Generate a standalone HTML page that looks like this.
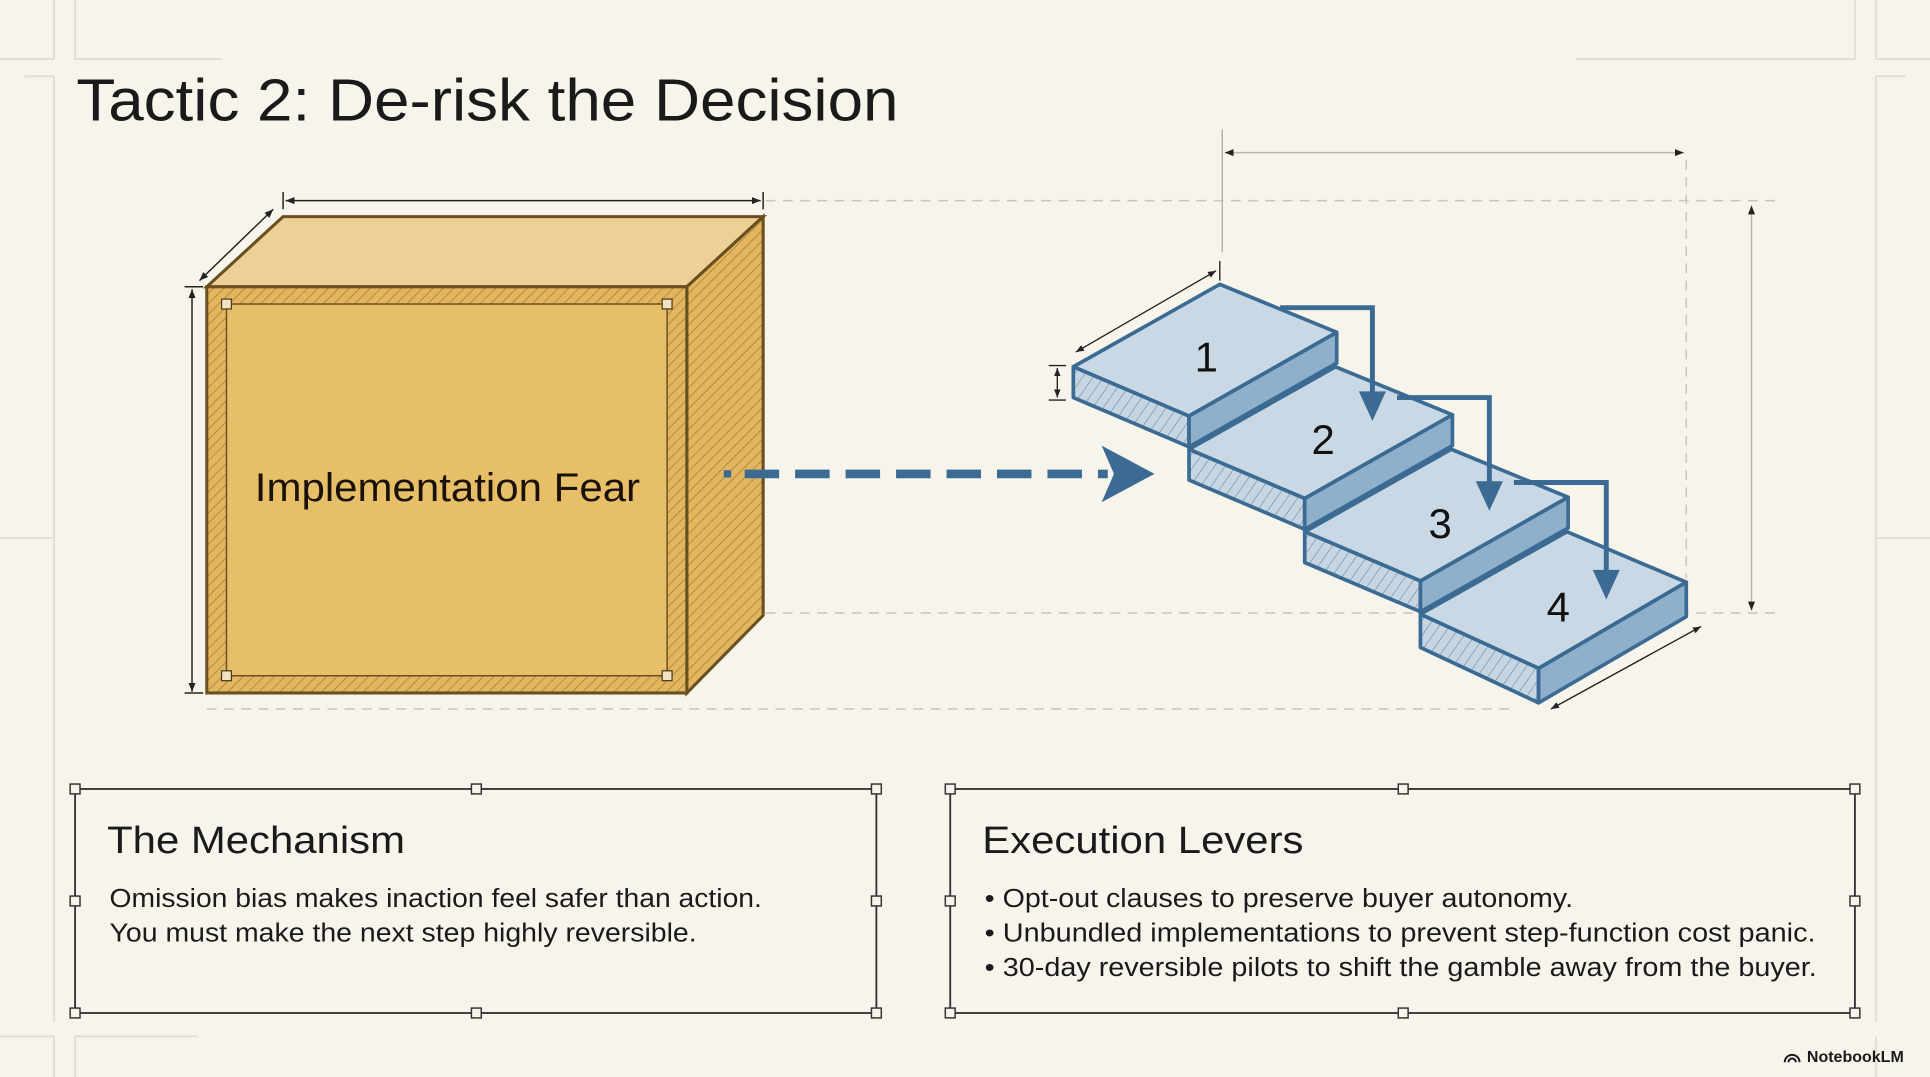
<!DOCTYPE html>
<html><head><meta charset="utf-8"><style>
html,body{margin:0;padding:0;background:#f7f4ec;}
svg{display:block}
text{font-family:"Liberation Sans",sans-serif;}
</style></head><body>
<svg width="1930" height="1077" viewBox="0 0 1568 875" xmlns="http://www.w3.org/2000/svg">
<defs>
<pattern id="hy" width="6" height="6" patternUnits="userSpaceOnUse" patternTransform="rotate(45)">
<rect width="6" height="6" fill="#e2b65e"/><line x1="0" y1="0" x2="0" y2="6" stroke="#9a7430" stroke-width="1"/></pattern>
<pattern id="hb" width="7" height="7" patternUnits="userSpaceOnUse" patternTransform="rotate(35)">
<rect width="7" height="7" fill="#c6d5e2"/><line x1="0" y1="0" x2="0" y2="7" stroke="#5a7c98" stroke-width="0.8"/></pattern>
<marker id="ar" viewBox="0 0 10 10" refX="10" refY="5" markerWidth="6" markerHeight="6" orient="auto-start-reverse"><path d="M0,1 L10,5 L0,9 z" fill="#222"/></marker>
</defs>
<rect width="1568" height="875" fill="#f7f4ec"/>
<g stroke="#e2ddd2" stroke-width="1.5" fill="none">
<line x1="44" y1="0" x2="44" y2="48"/><line x1="0" y1="48" x2="44" y2="48"/>
<line x1="61" y1="0" x2="61" y2="48"/><line x1="61" y1="48" x2="180" y2="48"/>
<line x1="1507" y1="0" x2="1507" y2="48"/><line x1="1280" y1="48" x2="1507" y2="48"/>
<line x1="1524" y1="0" x2="1524" y2="48"/><line x1="1524" y1="48" x2="1568" y2="48"/>
<line x1="20" y1="62" x2="44" y2="62"/><line x1="44" y1="62" x2="44" y2="830"/>
<line x1="1524" y1="62" x2="1524" y2="830"/><line x1="1524" y1="62" x2="1548" y2="62"/>
<line x1="0" y1="437" x2="44" y2="437"/><line x1="1524" y1="437" x2="1568" y2="437"/>
<line x1="0" y1="842" x2="44" y2="842"/><line x1="44" y1="842" x2="44" y2="875"/>
<line x1="61" y1="842" x2="61" y2="875"/><line x1="61" y1="842" x2="160" y2="842"/>
<line x1="1524" y1="842" x2="1524" y2="875"/>
</g>
<text x="62" y="98" font-size="48" fill="#1a1a1a" textLength="668" lengthAdjust="spacingAndGlyphs">Tactic 2: De-risk the Decision</text>
<g stroke="#c9c4ba" stroke-width="1.2" stroke-dasharray="8,6" fill="none">
<line x1="622" y1="163" x2="1445" y2="163"/>
<line x1="622" y1="498" x2="1445" y2="498"/>
<line x1="168" y1="576" x2="1230" y2="576"/>
<line x1="1370" y1="130" x2="1370" y2="470"/>
</g>
<g stroke="#b9b4aa" stroke-width="1.2" fill="none">
<line x1="993" y1="105" x2="993" y2="205"/>
<line x1="995" y1="124" x2="1368" y2="124" marker-start="url(#ar)" marker-end="url(#ar)"/>
<line x1="1423" y1="167" x2="1423" y2="496" marker-start="url(#ar)" marker-end="url(#ar)"/>
</g>
<polygon points="168,233 230,176 620,176 558,233" fill="#edd096" stroke="#6a5020" stroke-width="2.5"/>
<polygon points="558,233 620,176 620,500 558,563" fill="url(#hy)" stroke="#6a5020" stroke-width="2.5"/>
<rect x="168" y="233" width="390" height="330" fill="url(#hy)" stroke="#6a5020" stroke-width="2.5"/>
<rect x="184" y="247" width="358" height="302" fill="#e8bf69" stroke="#6a5020" stroke-width="1.2"/>
<g fill="#f2e3c0" stroke="#4a3a1a" stroke-width="1"><rect x="180" y="243" width="8" height="8"/><rect x="538" y="243" width="8" height="8"/><rect x="180" y="545" width="8" height="8"/><rect x="538" y="545" width="8" height="8"/></g>
<text x="207" y="407" font-size="32" fill="#1a1208" textLength="313" lengthAdjust="spacingAndGlyphs">Implementation Fear</text>
<g stroke="#222" stroke-width="1.2" fill="none">
<line x1="232" y1="163" x2="618" y2="163" marker-start="url(#ar)" marker-end="url(#ar)"/>
<line x1="230" y1="156" x2="230" y2="170"/><line x1="620" y1="156" x2="620" y2="170"/>
<line x1="162" y1="228" x2="222" y2="170" marker-start="url(#ar)" marker-end="url(#ar)"/>
<line x1="156" y1="235" x2="156" y2="562" marker-start="url(#ar)" marker-end="url(#ar)"/>
<line x1="150" y1="233" x2="165" y2="233"/><line x1="150" y1="563" x2="165" y2="563"/>
</g>
<line x1="588" y1="385" x2="594" y2="385" stroke="#3b6b93" stroke-width="6"/>
<line x1="605" y1="385" x2="900" y2="385" stroke="#3b6b93" stroke-width="7" stroke-dasharray="28,13"/>
<polygon points="895,362 938,385 895,408 905,385" fill="#3b6b93"/>
<g stroke="#3b6b93" stroke-width="3" stroke-linejoin="round">
<g>
<polygon points="872,298 991,231 1086,270 966,338" fill="#c9d8e5"/>
<polygon points="872,298 966,338 966,363 872,323" fill="url(#hb)"/>
<polygon points="966,338 1086,270 1086,295 966,363" fill="#8fb0cb"/>
</g>
<g transform="translate(94,67)">
<polygon points="872,298 991,231 1086,270 966,338" fill="#c9d8e5"/>
<polygon points="872,298 966,338 966,363 872,323" fill="url(#hb)"/>
<polygon points="966,338 1086,270 1086,295 966,363" fill="#8fb0cb"/>
</g>
<g transform="translate(188,134)">
<polygon points="872,298 991,231 1086,270 966,338" fill="#c9d8e5"/>
<polygon points="872,298 966,338 966,363 872,323" fill="url(#hb)"/>
<polygon points="966,338 1086,270 1086,295 966,363" fill="#8fb0cb"/>
</g>
<g transform="translate(282,201)">
<polygon points="872,298 991,231 1088,272 968,342" fill="#c9d8e5"/>
<polygon points="872,298 968,342 968,370 872,325" fill="url(#hb)"/>
<polygon points="968,342 1088,272 1088,300 968,370" fill="#8fb0cb"/>
</g>
</g>
<g fill="#111" font-size="34" text-anchor="middle">
<text x="980" y="302">1</text><text x="1075" y="369">2</text><text x="1170" y="437">3</text><text x="1266" y="505">4</text>
</g>
<g stroke="#3b6b93" stroke-width="4" fill="none">
<polyline points="1040,250 1115,250 1115,320"/>
<polyline points="1135,323 1210,323 1210,393"/>
<polyline points="1230,392 1305,392 1305,465"/>
</g>
<g fill="#3b6b93">
<polygon points="1104,318 1126,318 1115,342"/>
<polygon points="1199,391 1221,391 1210,415"/>
<polygon points="1294,463 1316,463 1305,487"/>
</g>
<g stroke="#222" stroke-width="1.1" fill="none">
<line x1="874" y1="286" x2="988" y2="220" marker-start="url(#ar)" marker-end="url(#ar)"/>
<line x1="991" y1="212" x2="991" y2="228"/>
<line x1="859" y1="299" x2="859" y2="323" marker-start="url(#ar)" marker-end="url(#ar)"/>
<line x1="852" y1="297" x2="866" y2="297"/><line x1="852" y1="325" x2="866" y2="325"/>
<line x1="1260" y1="576" x2="1382" y2="509" marker-start="url(#ar)" marker-end="url(#ar)"/>
</g>
<g stroke="#333" stroke-width="1.5" fill="none">
<rect x="61" y="641" width="651" height="182"/>
<rect x="772" y="641" width="735" height="182"/>
</g>
<g fill="#f7f4ec" stroke="#333" stroke-width="1.2">
<rect x="57" y="637" width="8" height="8"/><rect x="383" y="637" width="8" height="8"/><rect x="708" y="637" width="8" height="8"/>
<rect x="57" y="728" width="8" height="8"/><rect x="708" y="728" width="8" height="8"/>
<rect x="57" y="819" width="8" height="8"/><rect x="383" y="819" width="8" height="8"/><rect x="708" y="819" width="8" height="8"/>
<rect x="768" y="637" width="8" height="8"/><rect x="1136" y="637" width="8" height="8"/><rect x="1503" y="637" width="8" height="8"/>
<rect x="768" y="728" width="8" height="8"/><rect x="1503" y="728" width="8" height="8"/>
<rect x="768" y="819" width="8" height="8"/><rect x="1136" y="819" width="8" height="8"/><rect x="1503" y="819" width="8" height="8"/>
</g>
<g fill="#1a1a1a" lengthAdjust="spacingAndGlyphs">
<text x="87" y="693" font-size="31" textLength="242" lengthAdjust="spacingAndGlyphs">The Mechanism</text>
<text x="89" y="737" font-size="21" textLength="530" lengthAdjust="spacingAndGlyphs">Omission bias makes inaction feel safer than action.</text>
<text x="89" y="765" font-size="21" textLength="477" lengthAdjust="spacingAndGlyphs">You must make the next step highly reversible.</text>
<text x="798" y="693" font-size="31" textLength="261" lengthAdjust="spacingAndGlyphs">Execution Levers</text>
<text x="800" y="737" font-size="21" textLength="478" lengthAdjust="spacingAndGlyphs">• Opt-out clauses to preserve buyer autonomy.</text>
<text x="800" y="765" font-size="21" textLength="675" lengthAdjust="spacingAndGlyphs">• Unbundled implementations to prevent step-function cost panic.</text>
<text x="800" y="793" font-size="21" textLength="676" lengthAdjust="spacingAndGlyphs">• 30-day reversible pilots to shift the gamble away from the buyer.</text>
<text x="1468" y="863" font-size="13" font-weight="bold">NotebookLM</text>
</g>
<path d="M1450,863 a6,6 0 0 1 12,0 M1453,863 a3,3 0 0 1 6,0" stroke="#1a1a1a" stroke-width="1.6" fill="none"/>
</svg>
</body></html>
